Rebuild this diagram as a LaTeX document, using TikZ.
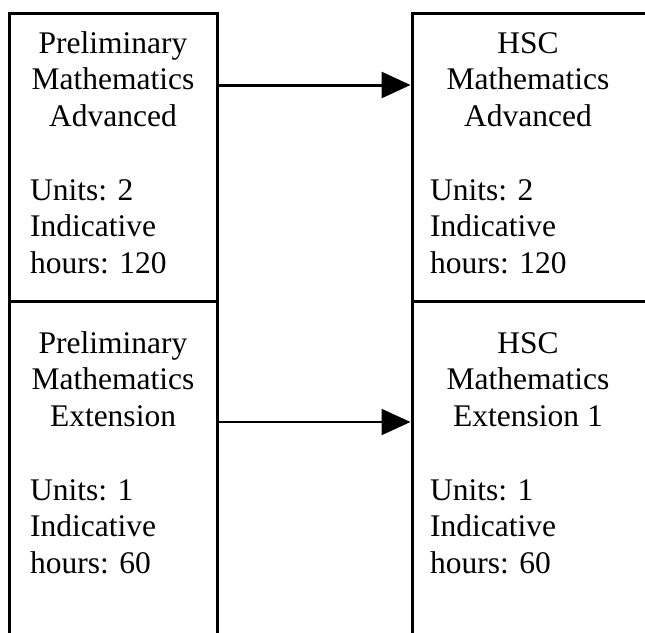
\documentclass[tikz,border=0pt]{standalone}
\usepackage{fontspec}
\setmainfont{Liberation Serif}
\usetikzlibrary{%
  arrows.meta,%
  positioning% wg. " of "
}

\begin{document}
\begin{tikzpicture}[
  x=1pt, y=-1pt,
  font=\fontsize{31.5}{36.5}\selectfont, >={Triangle[length=29pt,width=26pt]},
  coursebox/.style={rectangle, draw=black, line width=3pt, minimum width=207.5pt, inner sep=0pt},
  widebox/.style={coursebox, minimum width=268pt},
  titletext/.style={anchor=north, align=center, inner sep=0pt},
  infotext/.style={anchor=north west, align=left, inner sep=0pt},
  thickflow/.style={->, line width=3pt},
  thinflow/.style={->, line width=2.2pt}
]

\useasboundingbox (0,0) rectangle (645,632);
\clip (0,0) rectangle (645,632);

\node[coursebox, minimum height=288pt] (pa) at (113.25,157.7) {};
\node[coursebox, minimum height=358.3pt] (pe) at (113.25,480.85) {};
\node[widebox, minimum height=288pt] (ha) at (546,157.7) {};
\node[widebox, minimum height=358.3pt] (he) at (546,480.85) {};

\node[titletext] (pat) at (113,27.5) {\strut Preliminary\\Mathematics\\Advanced};
\node[infotext] (pai) at (30,174.5) {\strut Units: 2\\Indicative\\hours: 120};
\node[titletext] (pet) at (113,327.5) {\strut Preliminary\\Mathematics\\Extension};
\node[infotext] (pei) at (30,474.5) {\strut Units: 1\\Indicative\\hours: 60};

\node[titletext] (hat) at (528,27.5) {\strut HSC\\Mathematics\\Advanced};
\node[infotext] (hai) at (430,174.5) {\strut Units: 2\\Indicative\\hours: 120};
\node[titletext] (het) at (528,327.5) {\strut HSC\\Mathematics\\Extension 1};
\node[infotext] (hei) at (430,474.5) {\strut Units: 1\\Indicative\\hours: 60};

\coordinate (ya) at (0,85);
\coordinate (ye) at (0,422);

\draw[thickflow] (pa.east |- ya) -- (ha.west |- ya);
\draw[thinflow] (pe.east |- ye) -- (he.west |- ye);

\end{tikzpicture}
\end{document}
